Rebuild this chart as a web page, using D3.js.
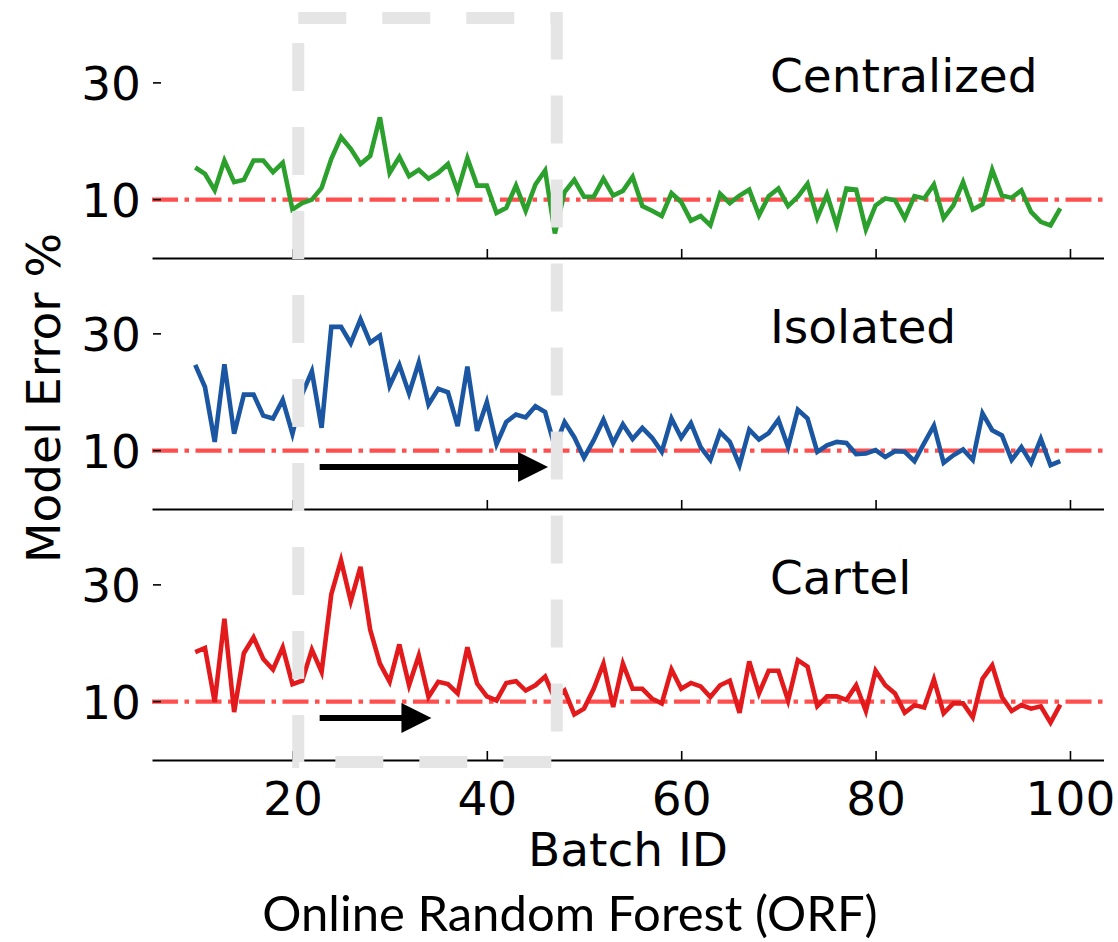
<!DOCTYPE html>
<html>
<head>
<meta charset="utf-8">
<script src="https://cdn.jsdelivr.net/npm/d3@7"></script>
<style>
  body { margin: 0; background: #fff; }
  text { font-family: "DejaVu Sans", sans-serif; fill: #000; }
</style>
</head>
<body>
<svg width="1118" height="942"></svg>
<script>
var width = 1118,
    height = 942;

// batch ids 10..99
var batches = d3.range(10, 100);

var centralized = [15.5, 14.4, 11.6, 16.7, 13.0, 13.4, 16.7, 16.7, 14.7, 16.3,
  8.3, 9.4, 10.0, 12.0, 17.0, 20.7, 18.7, 16.1, 17.5, 24.1,
  14.6, 17.3, 14.0, 15.1, 13.6, 14.6, 16.1, 11.5, 17.1, 12.4,
  12.4, 7.7, 8.6, 12.4, 8.1, 12.6, 15.0, 4.2, 11.3, 13.4,
  10.5, 10.5, 13.6, 10.7, 11.5, 13.9, 8.9, 8.1, 7.2, 11.1,
  9.6, 6.4, 7.2, 5.6, 11.0, 9.4, 10.7, 11.7, 7.3, 10.6,
  11.9, 8.9, 10.5, 12.7, 6.9, 10.9, 5.6, 11.9, 11.7, 4.9,
  9.0, 10.2, 9.9, 6.8, 10.6, 10.2, 12.6, 6.8, 9.0, 13.0,
  8.3, 9.2, 15.1, 10.7, 10.3, 11.6, 7.9, 6.2, 5.6, 8.5];

var isolated = [24.7, 20.9, 11.5, 24.8, 12.9, 19.6, 19.6, 16.0, 15.5, 18.7,
  12.9, 19.7, 23.6, 13.9, 31.2, 31.2, 28.4, 32.5, 28.5, 29.7,
  21.1, 24.7, 19.8, 25.1, 17.9, 20.6, 20.0, 14.2, 24.4, 13.4,
  18.3, 11.1, 14.9, 16.2, 15.7, 17.6, 16.6, 10.6, 14.9, 12.3,
  8.8, 11.8, 15.3, 11.3, 14.5, 12.0, 13.9, 12.2, 9.8, 15.5,
  12.2, 14.7, 10.6, 8.4, 13.2, 11.5, 7.5, 13.6, 11.9, 13.0,
  15.3, 10.6, 17.0, 15.5, 9.8, 10.9, 11.5, 11.3, 9.4, 9.5,
  10.1, 8.9, 9.9, 9.8, 8.2, 11.3, 14.3, 7.9, 9.2, 10.2,
  8.4, 16.4, 13.5, 12.6, 8.4, 10.6, 7.9, 12.0, 7.5, 8.2];

var cartel = [18.5, 19.2, 9.9, 24.2, 8.2, 18.3, 21.0, 17.3, 15.5, 19.3,
  13.0, 13.6, 18.9, 15.1, 28.4, 34.2, 27.2, 33.1, 22.3, 16.5,
  13.4, 19.8, 12.8, 17.9, 10.8, 13.4, 13.0, 11.4, 19.3, 13.1,
  10.9, 10.2, 13.2, 13.5, 11.9, 12.8, 14.3, 10.5, 11.9, 7.8,
  8.8, 12.2, 16.5, 9.1, 16.5, 12.2, 12.2, 10.5, 9.7, 15.5,
  12.2, 13.2, 12.6, 10.8, 12.8, 13.6, 8.1, 16.9, 11.4, 15.3,
  15.3, 10.2, 17.1, 16.0, 9.2, 10.9, 10.9, 10.3, 12.8, 8.4,
  15.3, 12.8, 11.4, 8.1, 9.4, 9.0, 13.8, 8.0, 9.7, 9.7,
  7.3, 13.9, 16.2, 10.8, 8.4, 9.4, 8.8, 9.2, 6.4, 9.5];

var panelNames = ["Centralized", "Isolated", "Cartel"];
var panelColors = ["#2ca02c", "#1b56a2", "#e31a1c"];
var panelSeries = [centralized, isolated, cartel];

var yTicks = [10, 30];
var xTicks = [20, 40, 60, 80, 100];
var targetError = 10;

// arrows (panel index, from batch, to batch, at error)
var arrows = [
  {panel: 1, x0: 22.8, x1: 46.3, y: 7.2},
  {panel: 2, x0: 22.8, x1: 34.3, y: 7.2}
];
// highlighted window of batches
var windowStart = 20.6,
    windowEnd = 47.2;

var svg = d3.select("svg");

var panelTop = 7,
    panelHeight = 251;

var x = d3.scaleLinear()
          .domain([5.55, 103.45])
          .range([152, 1103.5]);

var y = d3.scaleLinear()
          .domain([0, 43])
          .range([panelHeight, 0]);

var line = d3.line()
             .x(function(d, i) { return x(batches[i]); })
             .y(function(d) { return y(d); });

for (var p = 0; p < 3; p++) {
    var g = svg.append("g")
               .attr("transform", "translate(0," + (panelTop + p * panelHeight) + ")");

    // target line
    g.append("line")
     .attr("x1", x.range()[0]).attr("x2", x.range()[1])
     .attr("y1", y(targetError)).attr("y2", y(targetError))
     .attr("stroke", "#ff3b3b")
     .attr("stroke-opacity", 0.9)
     .attr("stroke-width", 4.2)
     .attr("stroke-dasharray", "26,6.5,4.5,6.5");

    g.append("path")
     .datum(panelSeries[p])
     .attr("d", line)
     .attr("fill", "none")
     .attr("stroke", panelColors[p])
     .attr("stroke-width", 4.6)
     .attr("stroke-linejoin", "miter");

    // bottom spine
    var xAxis = d3.axisBottom(x)
                  .tickValues(xTicks)
                  .tickSizeInner(-9)
                  .tickSizeOuter(0)
                  .tickFormat(p == 2 ? d3.format("d") : "");
    var ax = g.append("g")
              .attr("transform", "translate(0," + panelHeight + ")")
              .call(xAxis);
    ax.select(".domain").attr("stroke-width", 2);
    ax.selectAll(".tick line").attr("stroke-width", 1.6);
    ax.selectAll(".tick text")
      .attr("font-size", 47)
      .attr("font-family", "DejaVu Sans")
      .attr("dy", 0)
      .attr("y", 55);

    // left ticks, no spine
    var ya = g.append("g");
    ya.selectAll("line")
      .data(yTicks)
      .enter().append("line")
      .attr("x1", 153).attr("x2", 161)
      .attr("y1", function(d) { return y(d); })
      .attr("y2", function(d) { return y(d); })
      .attr("stroke", "#000")
      .attr("stroke-width", 1.6);
    ya.selectAll("text")
      .data(yTicks)
      .enter().append("text")
      .attr("x", 141)
      .attr("y", function(d) { return y(d); })
      .attr("dy", "0.36em")
      .attr("text-anchor", "end")
      .attr("font-size", 47)
      .text(function(d) { return d; });

    g.append("text")
     .attr("x", 770)
     .attr("y", 85)
     .attr("font-size", 47)
     .text(panelNames[p]);
}

arrows.forEach(function(a) {
    var top = panelTop + a.panel * panelHeight;
    svg.append("line")
       .attr("x1", x(a.x0)).attr("x2", x(a.x1) - 26)
       .attr("y1", top + y(a.y)).attr("y2", top + y(a.y))
       .attr("stroke", "#000")
       .attr("stroke-width", 6);
    svg.append("path")
       .attr("d", "M" + (x(a.x1) - 30) + "," + (top + y(a.y) - 15) +
                  "L" + x(a.x1) + "," + (top + y(a.y)) +
                  "L" + (x(a.x1) - 30) + "," + (top + y(a.y) + 15) + "Z")
       .attr("fill", "#000");
});

// dashed window box, drawn over everything
var bx0 = x(windowStart), bx1 = x(windowEnd),
    by0 = 18, by1 = panelTop + 3 * panelHeight + 2;
svg.append("path")
   .attr("d", "M" + bx0 + "," + by0 + "L" + bx1 + "," + by0 +
              "L" + bx1 + "," + by1 + "L" + bx0 + "," + by1 + "Z")
   .attr("fill", "none")
   .attr("stroke", "#e5e5e5")
   .attr("stroke-width", 12)
   .attr("stroke-dasharray", "48,36");

// axis titles
svg.append("text")
   .attr("x", 628)
   .attr("y", 866)
   .attr("text-anchor", "middle")
   .attr("font-size", 47)
   .text("Batch ID");

svg.append("text")
   .attr("transform", "translate(60,398) rotate(-90)")
   .attr("text-anchor", "middle")
   .attr("font-size", 47)
   .text("Model Error %");

svg.append("text")
   .attr("x", 570)
   .attr("y", 931)
   .attr("text-anchor", "middle")
   .style("font-family", "Lato, sans-serif")
   .attr("font-size", 49)
   .text("Online Random Forest (ORF)");
</script>
</body>
</html>
